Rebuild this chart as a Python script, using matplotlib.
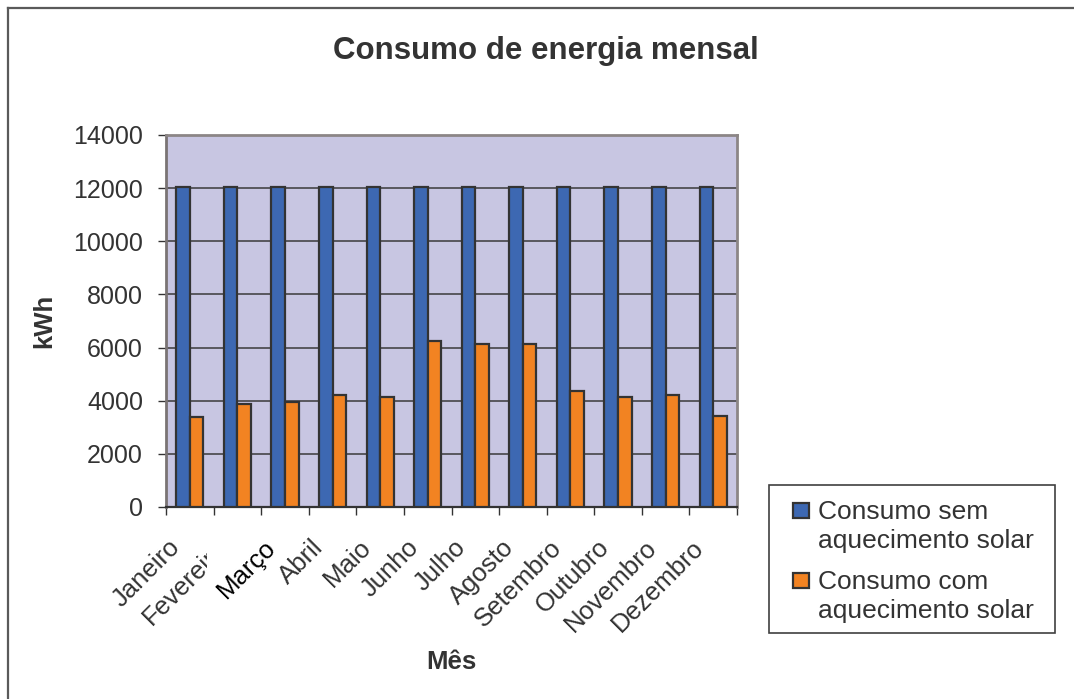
import matplotlib
matplotlib.use("Agg")
import matplotlib.pyplot as plt
import matplotlib.transforms as mtransforms
from matplotlib.legend_handler import HandlerPatch, update_from_first_child
from matplotlib.patches import Rectangle
import numpy as np

meses = ["Janeiro", "Fevereiro", "Março", "Abril", "Maio", "Junho",
         "Julho", "Agosto", "Setembro", "Outubro", "Novembro", "Dezembro"]
sem_solar = [12050, 12050, 12050, 12050, 12050, 12050,
             12050, 12050, 12050, 12050, 12050, 12050]
com_solar = [3400, 3880, 3940, 4215, 4130, 6250,
             6125, 6125, 4365, 4130, 4215, 3420]
yticks = list(range(0, 14001, 2000))

serie_labels = ["Consumo sem\naquecimento solar", "Consumo com\naquecimento solar"]
titulo = "Consumo de energia mensal"

W, H = 1074, 699
plt.rcParams["font.family"] = ["Liberation Sans", "DejaVu Sans"]
fig = plt.figure(figsize=(W / 100, H / 100), dpi=100)
fig.patch.set_facecolor("white")

# chart frame (left and top edges visible)
fig.add_artist(plt.Line2D([8 / W, 8 / W], [0, 1 - 8 / H], transform=fig.transFigure,
                          color="#5a5a5a", lw=1.6))
fig.add_artist(plt.Line2D([8 / W, 1], [1 - 8 / H, 1 - 8 / H], transform=fig.transFigure,
                          color="#5a5a5a", lw=1.6))

left, right, top, bottom = 166, 737, 135, 507
ax = fig.add_axes([left / W, 1 - bottom / H, (right - left) / W, (bottom - top) / H])
ax.set_facecolor("#C8C6E2")

x = np.arange(len(meses))
bw = 0.286
edge = "#333333"
b1 = ax.bar(x - bw / 2, sem_solar, bw, color="#3D68B2", edgecolor=edge, linewidth=1.6,
            label=serie_labels[0], zorder=3)
b2 = ax.bar(x + bw / 2, com_solar, bw, color="#F28322", edgecolor=edge, linewidth=1.6,
            label=serie_labels[1], zorder=3)

ax.set_xlim(-0.5, len(meses) - 0.5)
ax.set_ylim(0, 14000)
ax.set_yticks(yticks)
ax.yaxis.grid(True, color="#3a3a3a", linewidth=1.1, zorder=1)
ax.set_axisbelow(True)

for s in ["top", "right"]:
    ax.spines[s].set_color("#8c8686")
    ax.spines[s].set_linewidth(2)
ax.spines["left"].set_color("#7a7474")
ax.spines["left"].set_linewidth(2)
ax.spines["bottom"].set_color("#333333")
ax.spines["bottom"].set_linewidth(1.6)

ax.tick_params(axis="y", length=6, width=1, color="#333333", pad=10.5,
               labelsize=18, labelcolor="#333333")

# category boundaries carry the tick marks, labels sit at category centres
ax.set_xticks(np.arange(-0.5, len(meses), 1.0), minor=True)
ax.tick_params(axis="x", which="minor", length=6, width=1, color="#333333")
ax.set_xticks(x)
ax.set_xticklabels(meses)
ax.tick_params(axis="x", which="major", length=0, labelsize=18.5, labelcolor="#333333")

offset = mtransforms.ScaledTranslation(-13 / 100, -32 / 100, fig.dpi_scale_trans)
for i, lab in enumerate(ax.get_xticklabels()):
    lab.set_rotation(45)
    lab.set_ha("right")
    lab.set_va("center")
    lab.set_rotation_mode("anchor")
    lab.set_transform(lab.get_transform() + offset)
    if meses[i] == "Março":
        lab.set_color("black")
    if meses[i] == "Fevereiro":
        clip = mtransforms.TransformedBbox(
            mtransforms.Bbox.from_extents(0, 0, 207 / W, 1), fig.transFigure)
        lab.set_clip_on(True)
        lab.set_clip_box(clip)

fig.text(546 / W, 1 - 51 / H, titulo, ha="center", va="center",
         fontsize=22.5, fontweight="bold", color="#333333")
fig.text(44 / W, 1 - 321 / H, "kWh", ha="center", va="center", rotation=90,
         fontsize=18.5, fontweight="bold", color="#333333")
fig.text(451 / W, 1 - 662 / H, "Mês", ha="center", va="center",
         fontsize=18.5, fontweight="bold", color="#333333")


def square_top(legend, orig_handle, xdescent, ydescent, width, height, fontsize):
    # small square key aligned with the first line of a two-line label
    sq = 0.58 * fontsize
    return Rectangle((-xdescent, -ydescent + height - sq + 0.18 * fontsize), sq, sq)


# legend box, drawn beneath the legend entries
ax.add_patch(Rectangle((769 / W, 1 - 633 / H), (1055 - 769) / W, (633 - 485) / H,
                       transform=fig.transFigure, facecolor="white",
                       edgecolor="#404040", linewidth=1.2, zorder=4, clip_on=False))

key = HandlerPatch(patch_func=square_top, update_func=update_from_first_child)
leg = ax.legend(handles=[b1, b2], loc="upper left",
                bbox_to_anchor=(778 / W, 1 - 485 / H), bbox_transform=fig.transFigure,
                borderaxespad=0, fontsize=19, frameon=False,
                handlelength=0.58, handleheight=2.0, handletextpad=0.35,
                labelspacing=0.66, borderpad=0.58,
                handler_map={b1: key, b2: key})
leg.set_zorder(6)
for t in leg.get_texts():
    t.set_color("#333333")
    t.set_linespacing(1.25)

fig.savefig("out.png", dpi=100)
